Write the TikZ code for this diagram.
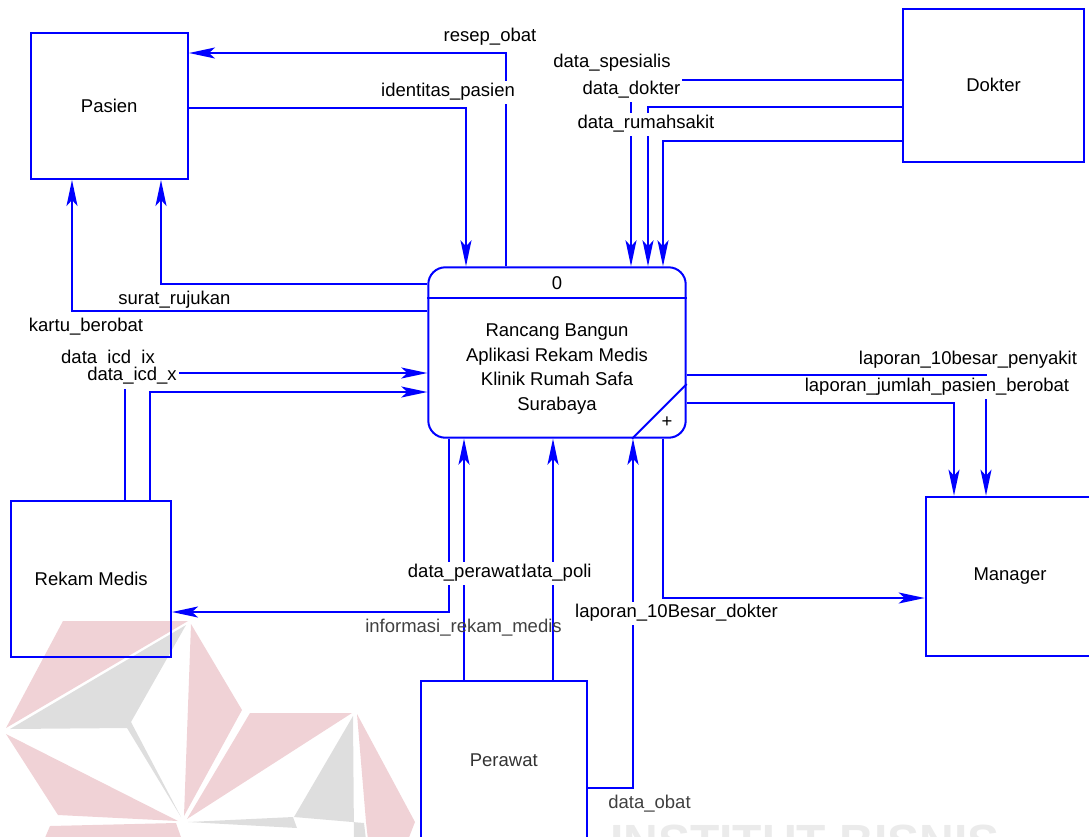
\documentclass[tikz,border=0pt]{standalone}
\usepackage{fontspec}
\setmainfont{Liberation Sans}
\usetikzlibrary{arrows.meta}
\definecolor{biru}{RGB}{0,0,255}
\definecolor{wmmerah}{RGB}{240,210,214}
\definecolor{wmabu}{RGB}{222,222,222}
\newcommand{\dfdfont}{\fontsize{18.5}{24.7}\selectfont}

\begin{document}
\begin{tikzpicture}[
    x=1pt, y=-1pt,
    >={Stealth[length=26pt, width=11pt, inset=6pt]},
    flow/.style={->, biru, line width=2pt},
    garis/.style={biru, line width=2pt},
    entitas/.style={draw=biru, line width=2pt, font=\dfdfont},
    lbl/.style={font=\dfdfont, inner xsep=2pt, inner ysep=3pt, text height=13pt, text depth=4pt},
    lblw/.style={lbl, fill=white}
  ]
  \useasboundingbox (0,0) rectangle (1089,836);

  % Watermark
  \fill[wmmerah] (63,621) -- (188,621) -- (6,728) -- cycle;
  \fill[wmabu] (10,729) -- (186,625) -- (131,722) -- (181,817) -- (127,728) -- cycle;
  \fill[wmmerah] (191,624) -- (242,710) -- (184,816) -- cycle;
  \fill[wmmerah] (6,734) -- (178,821) -- (58,815) -- cycle;
  \fill[wmmerah] (250,713) -- (352,713) -- (187,819) -- cycle;
  \fill[wmabu] (353,716) -- (294,817) -- (364,823) -- (366,840) -- (354,840) -- cycle;
  \fill[wmabu] (188,822) -- (293,817) -- (297,828) -- cycle;
  \fill[wmmerah] (357,714) -- (415,822) -- (408,840) -- (368,840) -- (366,822) -- cycle;
  \fill[wmmerah] (50,826) -- (176,823) -- (182,840) -- (44,840) -- cycle;
  \node[font=\fontsize{48}{48}\selectfont\bfseries, text=black!8, anchor=base west, inner sep=0pt] (wmteks) at (610,858) {INSTITUT BISNIS};

  % Entitas luar
  \node[entitas, minimum width=157.5pt, minimum height=146pt] (pasien) at (109.25,106) {Pasien};
  \node[entitas, minimum width=181pt, minimum height=153pt] (dokter) at (993.5,85.2) {Dokter};
  \node[entitas, minimum width=159.7pt, minimum height=156pt] (rekam) at (91.2,579) {Rekam Medis};
  \node[entitas, minimum width=165.7pt, minimum height=158.6pt, text=black!80] (perawat) at (503.8,760) {Perawat};
  \node[entitas, minimum width=168.6pt, minimum height=159pt] (manager) at (1010,576.2) {Manager};

  % Proses
  \node[draw=biru, line width=2pt, rounded corners=17pt, minimum width=257.4pt, minimum height=170.4pt] (proses) at (557,352.5) {};
  \draw[garis] (proses.west |- 0,298) -- (proses.east |- 0,298);
  \draw[garis] (proses.south -| 632,0) -- (proses.east |- 0,384);
  \node[font=\dfdfont] (nomor) at (557,283) {0};
  \node[font=\dfdfont, align=center] (judul) at (557,369) {Rancang Bangun\\Aplikasi Rekam Medis\\Klinik Rumah Safa\\Surabaya};
  \node[font=\dfdfont] (plus) at (667,422) {+};

  % Aliran data
  \draw[flow] (proses.north -| 506,0) |- (pasien.east |- 0,53);
  \draw[flow] (pasien.east |- 0,108) -| (proses.north -| 466,0);
  \draw[flow] (proses.west |- 0,284) -| (pasien.south -| 161,0);
  \draw[flow] (proses.west |- 0,311) -| (pasien.south -| 72,0);
  \draw[flow] (dokter.west |- 0,80) -| (proses.north -| 631,0);
  \draw[flow] (dokter.west |- 0,107) -| (proses.north -| 648,0);
  \draw[flow] (dokter.west |- 0,141) -| (proses.north -| 663,0);
  \draw[flow] (rekam.north -| 125,0) |- (proses.west |- 0,373);
  \draw[flow] (rekam.north -| 150,0) |- (proses.west |- 0,392);
  \draw[flow] (proses.south -| 449,0) |- (rekam.east |- 0,612);
  \draw[flow] (perawat.north -| 464,0) -- (proses.south -| 464,0);
  \draw[flow] (perawat.north -| 553,0) -- (proses.south -| 553,0);
  \draw[flow] (perawat.east |- 0,788) -| (proses.south -| 633,0);
  \draw[flow] (proses.south -| 663,0) |- (manager.west |- 0,598);
  \draw[flow] (proses.east |- 0,375) -| (manager.north -| 986,0);
  \draw[flow] (proses.east |- 0,403) -| (manager.north -| 954,0);

  % Label aliran
  \node[lbl] (lresep) at (490,37) {resep\_obat};
  \node[lblw] (lident) at (448,92) {identitas\_pasien};
  \node[lbl] (lspes) at (612,63) {data\_spesialis};
  \node[lblw] (ldokter) at (631.5,90) {data\_dokter};
  \node[lblw] (lrs) at (646,124) {data\_rumahsakit};
  \node[lbl] (lsurat) at (174.5,300) {surat\_rujukan};
  \node[lbl] (lkartu) at (86,327) {kartu\_berobat};
  \node[lbl] (licdix) at (108,359) {data\_icd\_ix};
  \node[lblw, inner ysep=4pt] (licdx) at (132,376) {data\_icd\_x};
  \node[lbl, text=black!75] (linfo) at (463.5,628) {informasi\_rekam\_medis};
  \node[lblw] (lpoli) at (554,573) {data\_poli};
  \node[lblw] (lperawat) at (464,573) {data\_perawat};
  \node[lblw] (llap10d) at (676.5,613) {laporan\_10Besar\_dokter};
  \node[lbl, text=black!75] (lobat) at (649.5,804) {data\_obat};
  \node[lbl] (llap10p) at (968,359.5) {laporan\_10besar\_penyakit};
  \node[lblw] (ljumlah) at (937,387) {laporan\_jumlah\_pasien\_berobat};

\end{tikzpicture}
\end{document}
